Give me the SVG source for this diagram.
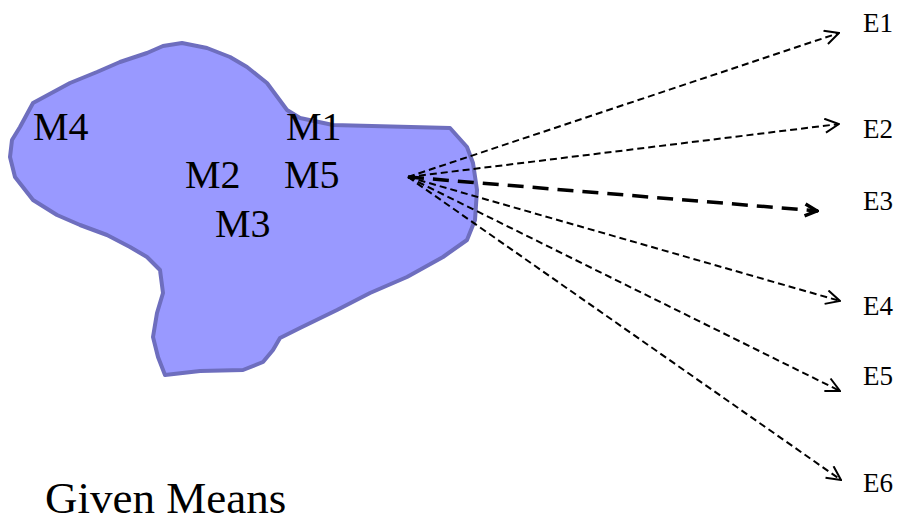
<svg xmlns="http://www.w3.org/2000/svg" width="900" height="522" viewBox="0 0 900 522">
<style>
.thin{fill:none;stroke:#000;stroke-width:2;stroke-dasharray:7 4}
.thick{fill:none;stroke:#000;stroke-width:3.5;stroke-dasharray:16 9}
</style>
<defs>
<marker id="ah" viewBox="0 0 16 16" refX="15" refY="8" markerWidth="16" markerHeight="16" markerUnits="userSpaceOnUse" orient="auto">
<path d="M1,1 L15,8 L1,15" fill="none" stroke="#000" stroke-width="2"/>
</marker>
<marker id="ahb" viewBox="0 0 16 16" refX="15" refY="8" markerWidth="16" markerHeight="16" markerUnits="userSpaceOnUse" orient="auto">
<path d="M2,2 L14,8 L2,14" fill="none" stroke="#000" stroke-width="3.5"/>
</marker>
</defs>
<g id="blob">
<path d="M182,43 L163,46 L147,53 L120,62 L97,72 L70,83 L33,103 L20,127 L12,140 L10,157 L15,177 L33,200 L57,215 L80,225 L107,235 L130,247 L147,257 L160,270 L163,293 L157,313 L153,337 L158,357 L165,375 L200,371 L243,370 L263,362 L273,350 L280,338 L300,328 L337,310 L370,293 L407,277 L443,257 L467,240 L475,220 L477,190 L473,163 L467,147 L450,128 L333,125 L300,118 L287,110 L267,83 L247,67 L230,57 L207,48 Z" fill="#9999ff" stroke="#6e6ebe" stroke-width="4" stroke-linejoin="round"/>
</g>
<g font-family="Liberation Serif, serif" fill="#000">
<g id="means" font-size="40">
<text x="33" y="140">M4</text>
<text x="286" y="140">M1</text>
<text x="185" y="188">M2</text>
<text x="284" y="188">M5</text>
<text x="215" y="237">M3</text>
</g>
<g id="E1" font-size="27"><text x="863" y="32">E1</text></g>
<g id="E2" font-size="27"><text x="863" y="138">E2</text></g>
<g id="E3" font-size="27"><text x="863" y="210">E3</text></g>
<g id="E4" font-size="27"><text x="863" y="315">E4</text></g>
<g id="E5" font-size="27"><text x="863" y="385">E5</text></g>
<g id="E6" font-size="27"><text x="863" y="492">E6</text></g>
<g id="title"><text x="45" y="513" font-size="45">Given Means</text></g>
</g>
<g id="connectors">
<line class="thin" x1="408" y1="177" x2="839" y2="33" marker-end="url(#ah)"/>
<line class="thin" x1="408" y1="177" x2="839" y2="124" marker-end="url(#ah)"/>
<line class="thick" x1="408" y1="177" x2="818" y2="211" marker-end="url(#ahb)"/>
<line class="thin" x1="408" y1="177" x2="840" y2="301" marker-end="url(#ah)"/>
<line class="thin" x1="408" y1="177" x2="840" y2="391" marker-end="url(#ah)"/>
<line class="thin" x1="408" y1="177" x2="841" y2="480" marker-end="url(#ah)"/>
</g>
</svg>
